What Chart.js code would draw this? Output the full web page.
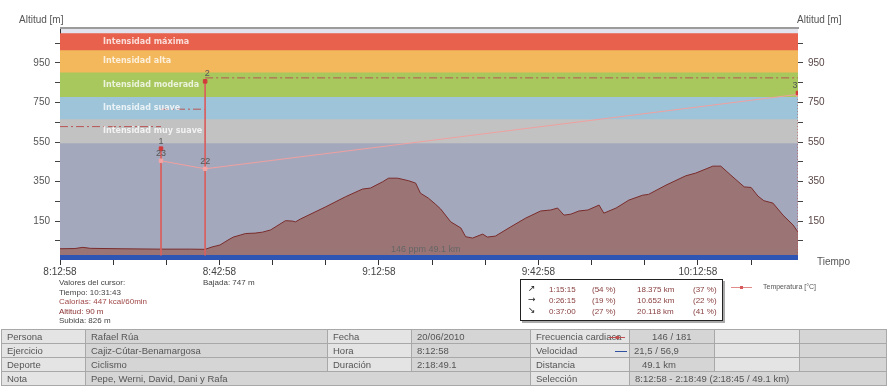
<!DOCTYPE html>
<html>
<head>
<meta charset="utf-8">
<script src="https://cdn.jsdelivr.net/npm/chart.js@4/dist/chart.umd.min.js"></script>
<style>
body{margin:0;background:#fff;font-family:"Liberation Sans",Arial,sans-serif;}
#wrap{position:relative;width:890px;height:391px;overflow:hidden;}
#c{position:absolute;left:0;top:0;}
.tx{position:absolute;white-space:nowrap;color:#555;}
.small{font-size:8px;line-height:9.5px;}
#box{position:absolute;left:520px;top:279px;width:201px;height:40px;border:1px solid #222;background:#fff;box-shadow:2px 2px 0 #aaa;font-size:8px;color:#8a4040;}
#box span{position:absolute;white-space:nowrap;}
#box .ar{font-family:"DejaVu Sans";color:#222;font-size:9px;}
table{position:absolute;left:1px;top:329px;border-collapse:collapse;table-layout:fixed;font-size:9.5px;color:#555;border:1px solid #999;}
td{border:1px solid #a8a8a8;height:13px;padding:0 0 0 5px;white-space:nowrap;overflow:hidden;background:#e4e4e4;}
td.v{background:#d5d5d5;}
</style>
</head>
<body>
<div id="wrap">
<canvas id="c" width="890" height="326"></canvas>

<div class="tx" style="left:19px;top:14px;font-size:10px;">Altitud [m]</div>
<div class="tx" style="left:797px;top:14px;font-size:10px;">Altitud [m]</div>
<div class="tx" style="left:817px;top:256px;font-size:10px;">Tiempo</div>

<div class="tx small" style="left:59px;top:278px;">
<div style="color:#444">Valores del cursor:</div>
<div style="color:#444">Tiempo: 10:31:43</div>
<div style="color:#a04848">Calorías: 447 kcal/60min</div>
<div style="color:#8a3030">Altitud: 90 m</div>
<div style="color:#444">Subida: 826 m</div>
</div>
<div class="tx small" style="left:203px;top:278px;color:#444">Bajada: 747 m</div>

<div id="box">
<span class="ar" style="left:7px;top:3px">↗</span><span style="left:28px;top:5px">1:15:15</span><span style="left:71px;top:5px">(54 %)</span><span style="left:116px;top:5px">18.375 km</span><span style="left:172px;top:5px">(37 %)</span>
<span class="ar" style="left:7px;top:14px">→</span><span style="left:28px;top:16px">0:26:15</span><span style="left:71px;top:16px">(19 %)</span><span style="left:116px;top:16px">10.652 km</span><span style="left:172px;top:16px">(22 %)</span>
<span class="ar" style="left:7px;top:25px">↘</span><span style="left:28px;top:27px">0:37:00</span><span style="left:71px;top:27px">(27 %)</span><span style="left:116px;top:27px">20.118 km</span><span style="left:172px;top:27px">(41 %)</span>
</div>

<div style="position:absolute;left:731px;top:287px;width:21px;height:1px;background:#e08a8a"></div>
<div style="position:absolute;left:740px;top:286px;width:3px;height:3px;background:#d85a5a"></div>
<div class="tx" style="left:763px;top:283px;font-size:7px;color:#555">Temperatura [°C]</div>

<table>
<colgroup><col style="width:84px"><col style="width:242px"><col style="width:84px"><col style="width:119px"><col style="width:99px"><col style="width:85px"><col style="width:85px"><col style="width:87px"></colgroup>
<tr><td>Persona</td><td class="v">Rafael Rúa</td><td>Fecha</td><td class="v">20/06/2010</td><td style="position:relative">Frecuencia cardiaca<span style="position:absolute;left:78px;top:7px;width:16px;height:1px;background:#c05050"></span><span style="position:absolute;left:85px;top:6px;width:3px;height:3px;background:#c05050"></span></td><td class="v" style="padding-left:22px">146 / 181</td><td></td><td class="v"></td></tr>
<tr><td>Ejercicio</td><td class="v">Cajiz-Cútar-Benamargosa</td><td>Hora</td><td class="v">8:12:58</td><td style="position:relative">Velocidad<span style="position:absolute;left:84px;top:7px;width:12px;height:1px;background:#3050a0"></span></td><td class="v" style="padding-left:4px">21,5 / 56,9</td><td></td><td class="v"></td></tr>
<tr><td>Deporte</td><td class="v">Ciclismo</td><td>Duración</td><td class="v">2:18:49.1</td><td>Distancia</td><td class="v" style="padding-left:12px">49.1 km</td><td></td><td class="v"></td></tr>
<tr><td>Nota</td><td class="v" colspan="3">Pepe, Werni, David, Dani y Rafa</td><td>Selección</td><td class="v" colspan="3">8:12:58 - 2:18:49 (2:18:45 / 49.1 km)</td></tr>
</table>
</div>

<script>
// time axis (minutes since 8:12:58)
const totalMin = 138.82;
const xTickMin = [0, 10, 20, 30, 40, 50, 60, 70, 80, 90, 100, 110, 120, 130];
const xLabelMin = [0, 30, 60, 90, 120];
const xLabels = ["8:12:58", "8:42:58", "9:12:58", "9:42:58", "10:12:58"];

// altitude axis
const altMin = -47, altMax = 1127;
const yTickVals = [50, 150, 250, 350, 450, 550, 650, 750, 850, 950, 1050];
const yLabelVals = [150, 350, 550, 750, 950];

// altitude profile
const profileMin = [0, 2.8, 4.3, 5.7, 11.3, 18.8, 24.5, 27.3, 28.6, 30.1, 31.6, 32.6, 33.9, 34.9, 36.7, 38.1, 39.6,
  42.4, 43.7, 44.3, 45.2, 49.9, 53.7, 56.9, 58.4, 60.7, 61.8, 63.5, 65.6, 66.9, 67.8, 69.3, 70.6, 71.6, 73.5,
  75.4, 76.3, 77.6, 79.5, 80.4, 81.9, 84.8, 87.6, 90.4, 92.3, 93.6, 94.8, 96.1, 97.6, 99.3, 101.4, 102.3, 104.6,
  107.0, 109.6, 110.7, 114.0, 117.7, 119.6, 122.8, 124.3, 126.2, 128.7, 130.0, 131.3, 132.4, 134.1, 136.0, 137.9, 138.82];
const profileAlt = [10, 11, 17, 12, 10, 8, 8, 7, 19, 29, 54, 69, 79, 87, 89, 94, 105,
  152, 150, 146, 160, 221, 273, 312, 317, 349, 367, 367, 354, 342, 291, 266, 236, 211, 146,
  115, 71, 64, 84, 69, 74, 121, 165, 201, 206, 216, 180, 185, 201, 206, 231, 190, 216,
  256, 281, 285, 332, 379, 393, 428, 428, 382, 323, 320, 276, 253, 241, 180, 130, 94];

// heart rate zones (drawn on the altitude scale)
const zoneNames = ["Intensidad máxima", "Intensidad alta", "Intensidad moderada", "Intensidad suave", "Intensidad muy suave", ""];
const zoneTop = [1100, 1014, 902, 778, 665, 544];
const zoneColors = ["#e8614d", "#f3b85b", "#a8c85e", "#9dc4d8", "#c2c2c2", "#a4a8bc"];

// speed strip at the bottom
const speedTop = -22;

// temperature
const tempMin = [19.0, 27.3, 138.82];
const tempVal = [23, 22, 31.3];
const tempLabels = ["23", "22", ""];

// laps (heart rate)
const lapStart = [0, 19.0, 27.3];
const lapEnd = [19.0, 27.3, 138.82];
const lapMaxHr = [96, 154, 144];
const lapAvgHr = [115, 130, 157];
const lapLabels = ["1", "2", "3"];

function xy(xs, ys) { return xs.map((x, i) => ({x: x, y: ys[i]})); }

const datasets = [];

// lap markers
datasets.push({
  data: xy(lapEnd, lapMaxHr), yAxisID: 'yH', showLine: false,
  pointStyle: 'rect', pointRadius: 2.5, backgroundColor: '#d23a3a', borderColor: '#d23a3a',
  pointLabels: lapLabels, labelDx: [0, 2, -3], order: 1
});
// temperature
datasets.push({
  data: xy(tempMin, tempVal), yAxisID: 'yT', borderColor: '#f0a0a0', borderWidth: 1,
  pointStyle: 'rect', pointRadius: 2.5, backgroundColor: '#f2a5a5', pointBorderColor: '#f2a5a5',
  pointLabels: tempLabels, labelDx: [0, 0, 0], order: 2
});
// lap vertical lines
lapEnd.forEach((t, i) => {
  datasets.push({
    data: [{x: t, y: lapMaxHr[i]}, {x: t, y: 4}], yAxisID: 'yH', pointRadius: 0,
    borderColor: i === 2 ? '#c04040' : '#d86060', borderWidth: 1,
    borderDash: i === 2 ? [1, 2] : [], order: 3
  });
});
// lap averages (dash-dot)
lapStart.forEach((t, i) => {
  datasets.push({
    data: [{x: t, y: lapAvgHr[i]}, {x: lapEnd[i], y: lapAvgHr[i]}], yAxisID: 'yH', pointRadius: 0,
    borderColor: '#b85555', borderWidth: 1, borderDash: [8, 3, 2, 3], order: 4
  });
});
// speed strip
datasets.push({
  data: [{x: 0, y: speedTop}, {x: totalMin, y: speedTop}], yAxisID: 'y', pointRadius: 0,
  borderWidth: 0, fill: 'start', backgroundColor: '#2f55b4', order: 8
});
// altitude
datasets.push({
  data: xy(profileMin, profileAlt), yAxisID: 'y', pointRadius: 0,
  borderColor: '#7a2c2c', borderWidth: 1, fill: 'start', backgroundColor: '#9b7575', order: 9
});
// zones
zoneTop.forEach((v, i) => {
  datasets.push({
    data: [{x: 0, y: v}, {x: totalMin, y: v}], yAxisID: 'y', pointRadius: 0,
    borderWidth: 0, fill: 'start', backgroundColor: zoneColors[i], order: 20 - i
  });
});

const bgPlugin = {
  id: 'bg',
  beforeDraw(chart) {
    const a = chart.chartArea, ctx = chart.ctx;
    ctx.save();
    ctx.fillStyle = '#e3e3ee';
    ctx.fillRect(a.left, a.top, a.right - a.left, a.bottom - a.top);
    ctx.restore();
  },
  afterDraw(chart) {
    const a = chart.chartArea, ctx = chart.ctx;
    ctx.save();
    ctx.fillStyle = '#9c9c9c';
    ctx.fillRect(a.left, a.top - 1, a.right - a.left + 1, 2);
    ctx.restore();
  }
};

const textPlugin = {
  id: 'texts',
  afterDatasetsDraw(chart) {
    const ctx = chart.ctx, y = chart.scales.y, x = chart.scales.x, a = chart.chartArea;
    ctx.save();
    // zone names
    ctx.font = 'bold 8px "DejaVu Sans"';
    ctx.fillStyle = 'rgba(255,255,255,0.78)';
    ctx.textBaseline = 'middle';
    ctx.textAlign = 'left';
    zoneNames.forEach((n, i) => {
      if (!n) return;
      const mid = (zoneTop[i] + zoneTop[i + 1]) / 2;
      ctx.fillText(n, a.left + 43, y.getPixelForValue(mid));
    });
    // summary text
    ctx.font = '9px "Liberation Sans"';
    ctx.fillStyle = '#666';
    ctx.textAlign = 'center';
    ctx.fillText('146 ppm 49.1 km', x.getPixelForValue(68.8), a.bottom - 10);
    // point labels
    ctx.fillStyle = '#555';
    ctx.textBaseline = 'bottom';
    chart.data.datasets.forEach((ds, i) => {
      if (!ds.pointLabels) return;
      chart.getDatasetMeta(i).data.forEach((p, j) => {
        if (ds.pointLabels[j]) ctx.fillText(ds.pointLabels[j], p.x + ds.labelDx[j], p.y - 3);
      });
    });
    ctx.restore();
  }
};

function setTicks(vals) { return (scale) => { scale.ticks = vals.map(v => ({value: v})); }; }

const yCommon = {
  type: 'linear', min: altMin, max: altMax,
  afterBuildTicks: setTicks(yTickVals),
  grid: {drawOnChartArea: false, tickLength: 5, color: '#444'},
  ticks: {
    padding: 5, color: '#555', font: {family: 'Liberation Sans', size: 10},
    callback: (v) => yLabelVals.includes(v) ? String(v) : ''
  }
};

new Chart(document.getElementById('c'), {
  type: 'line',
  data: {datasets: datasets},
  options: {
    responsive: false,
    animation: false,
    parsing: true,
    layout: {padding: {top: 28, left: 0, right: 0, bottom: 0}},
    plugins: {legend: {display: false}, tooltip: {enabled: false}},
    scales: {
      x: {
        type: 'linear', min: 0, max: totalMin,
        afterBuildTicks: setTicks(xTickMin),
        afterFit: (s) => { s.height = 66; },
        border: {display: false},
        grid: {drawOnChartArea: false, tickLength: 5, color: '#333'},
        ticks: {
          autoSkip: false, maxRotation: 0, padding: 1, color: '#444',
          font: {family: 'Liberation Sans', size: 10},
          callback: (v) => { const k = xLabelMin.indexOf(v); return k >= 0 ? xLabels[k] : ''; }
        }
      },
      y: Object.assign({}, yCommon, {
        position: 'left',
        afterFit: (s) => { s.width = 60; },
        border: {display: true, color: '#333', width: 1}
      }),
      y2: Object.assign({}, yCommon, {
        position: 'right',
        afterFit: (s) => { s.width = 92; },
        border: {display: false},
        ticks: Object.assign({}, yCommon.ticks, {color: '#5a4646'})
      }),
      yT: {type: 'linear', display: false, min: 10.6, max: 39.6},
      yH: {type: 'linear', display: false, min: 0, max: 200}
    }
  },
  plugins: [bgPlugin, textPlugin]
});
</script>
</body>
</html>
